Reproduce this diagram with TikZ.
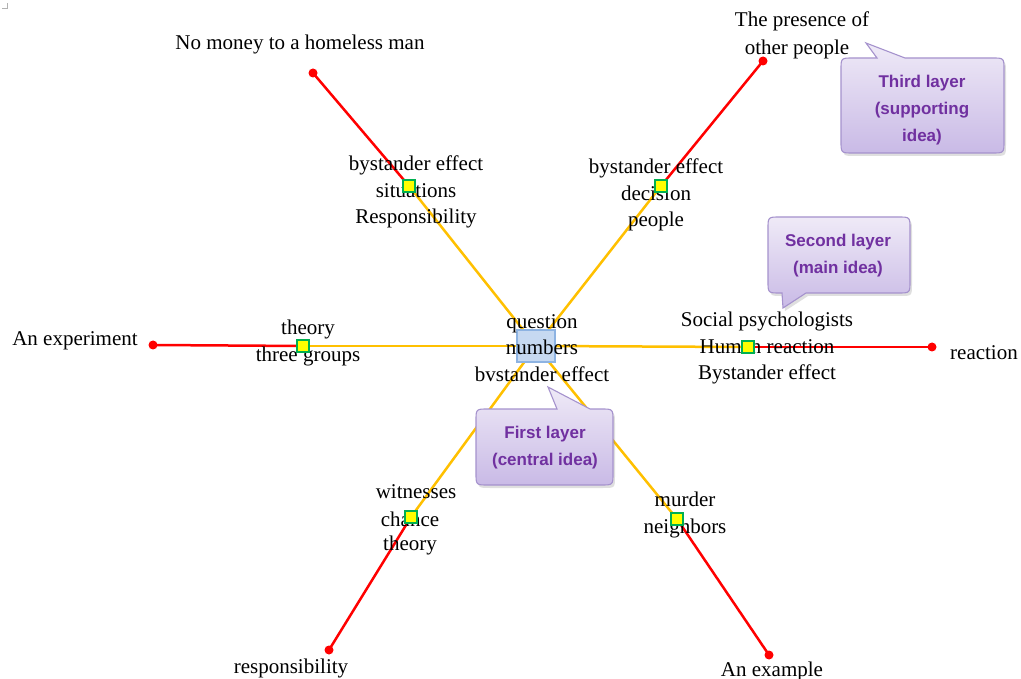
\documentclass[tikz,border=0pt]{standalone}
\usepackage{fontspec}
\setmainfont{Liberation Serif}
\newfontfamily\calloutfont{Liberation Sans}
\usetikzlibrary{shadows}

\definecolor{spokeyellow}{HTML}{FFC000}
\definecolor{spokered}{HTML}{FF0000}
\definecolor{knotgreen}{HTML}{00B050}
\definecolor{knotfill}{HTML}{FFFF00}
\definecolor{hubfill}{HTML}{C6D9F1}
\definecolor{hubline}{HTML}{8DB3E2}
\definecolor{bubbletop}{HTML}{EFEAF7}
\definecolor{bubblebottom}{HTML}{C9BAE6}
\definecolor{bubbleline}{HTML}{A592CD}
\definecolor{bubbletext}{HTML}{7030A0}

\pgfdeclarelayer{bg}
\pgfsetlayers{bg,main}

\tikzset{
  hub/.style={rectangle, minimum width=38pt, minimum height=32pt, inner sep=0pt,
              fill=hubfill, draw=hubline, line width=1.8pt},
  knot/.style={rectangle, minimum size=12pt, inner sep=0pt,
               fill=knotfill, draw=knotgreen, line width=1.8pt},
  enddot/.style={circle, minimum size=9pt, inner sep=0pt, fill=spokered},
  label/.style={inner sep=0pt, align=center,
                font=\fontsize{21}{26.5}\selectfont},
  inner/.style={spokeyellow, line width=2.5pt},
  outer/.style={spokered, line width=2.5pt},
  bubble/.style={draw=bubbleline, line width=1.1pt,
                 top color=bubbletop, bottom color=bubblebottom,
                 drop shadow={opacity=0.25, shadow xshift=2pt, shadow yshift=-3pt}},
  bubbletxt/.style={inner sep=0pt, align=center, text=bubbletext,
                    font=\calloutfont\bfseries\fontsize{17}{27}\selectfont}
}

\begin{document}
\begin{tikzpicture}[x=1pt, y=-1pt]
\useasboundingbox (0,0) rectangle (1021,679);

% small corner mark
\draw[gray!60, line width=0.6pt] (2,8) -- (7,8) -- (7,3);

% central hub
\node[hub] (c) at (536,346) {};

% labels
\node[label] (tc) at (542,348) {question\\numbers\\bvstander effect};
\node[label] (t1) at (416,192) {bystander effect\\situations\\Responsibility};
\node[label] (t2) at (656,195) {bystander effect\\decision\\people};
\node[label] (t3) at (308,343) {theory\\three groups};
\node[label] (t4) at (767,348) {Social psychologists\\Human reaction\\Bystander effect};
\node[label] (t5a) at (416,492) {witnesses};
\node[label] (t5b) at (410,519) {chance};
\node[label] (t5c) at (410,545) {theory};
\node[label] (t6) at (685,515) {murder\\neighbors};

\node[label] (e1) at (300,44) {No money to a homeless man};
\node[label] (e2a) at (802,21) {The presence of};
\node[label] (e2b) at (797,49) {other people};
\node[label] (e3) at (75,341) {An experiment};
\node[label] (e4) at (984,353) {reaction};
\node[label] (e5) at (291,668) {responsibility};
\node[label] (e6) at (772,671) {An example};

% junction squares
\node[knot] (s1) at (409,186) {};
\node[knot] (s2) at (661,186) {};
\node[knot] (s3) at (303,346) {};
\node[knot] (s4) at (748,347) {};
\node[knot] (s5) at (411,517) {};
\node[knot] (s6) at (677,519) {};

% end points
\node[enddot] (d1) at (313,73) {};
\node[enddot] (d2) at (763,61) {};
\node[enddot] (d3) at (153,345) {};
\node[enddot] (d4) at (932,347) {};
\node[enddot] (d5) at (329,650) {};
\node[enddot] (d6) at (769,655) {};

% spokes, behind the text
\begin{pgfonlayer}{bg}
  \fill[white] (0,0) rectangle (1021,679);
  \foreach \k in {1,...,6} {
    \draw[inner] (c.center) -- (s\k.center);
    \draw[outer] (s\k.center) -- (d\k.center);
  }
\end{pgfonlayer}

% callouts
\path[bubble] (557,409) -- (548,387) -- (590,409) -- (601,409)
  .. controls (613,409) .. (613,421) -- (613,473)
  .. controls (613,485) .. (601,485) -- (488,485)
  .. controls (476,485) .. (476,473) -- (476,421)
  .. controls (476,409) .. (488,409) -- cycle;
\node[bubbletxt] (b1) at (545,448) {First layer\\(central idea)};

\path[bubble] (806,293) -- (783,308) -- (782,293) -- (780,293)
  .. controls (768,293) .. (768,281) -- (768,229)
  .. controls (768,217) .. (780,217) -- (898,217)
  .. controls (910,217) .. (910,229) -- (910,281)
  .. controls (910,293) .. (898,293) -- cycle;
\node[bubbletxt] (b2) at (838,256) {Second layer\\(main idea)};

\path[bubble] (905,58) -- (866,43) -- (877,58) -- (853,58)
  .. controls (841,58) .. (841,70) -- (841,141)
  .. controls (841,153) .. (853,153) -- (992,153)
  .. controls (1004,153) .. (1004,141) -- (1004,70)
  .. controls (1004,58) .. (992,58) -- cycle;
\node[bubbletxt] (b3) at (922,110) {Third layer\\(supporting\\idea)};
\end{tikzpicture}
\end{document}
